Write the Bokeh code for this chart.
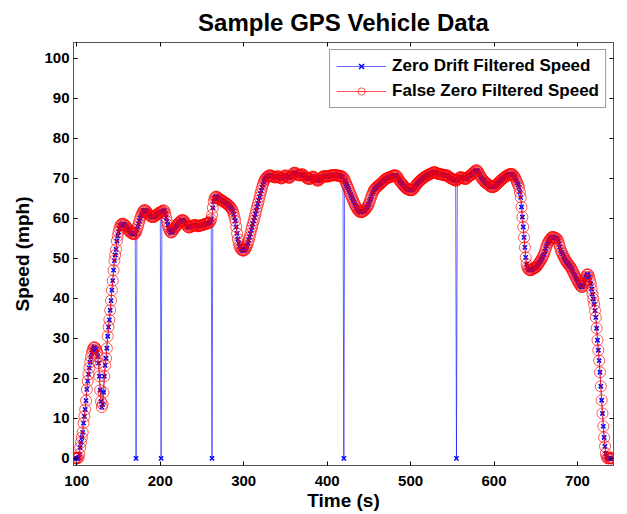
from bokeh.plotting import figure
from bokeh.models import Range1d, LinearAxis, FixedTicker, Legend, LegendItem, ColumnDataSource
from bokeh.embed import file_html
from bokeh.resources import INLINE

# ---- data (1 s samples) ----
time_s = list(range(97, 744))

false_zero_speed = [
    0, 0, 0, 0, 0, 0.2, 1.0, 2.7, 4.0, 5.2,                     # 97
    6.5, 8.8, 10.5, 12.2, 14.4, 17.2, 19.3, 21.0, 22.6, 24.0,   # 107
    25.3, 26.4, 27.1, 27.6, 27.8, 27.6, 27.2, 26.6, 25.4, 23.8, # 117
    20.5, 17.0, 14.2, 12.8, 13.5, 16.5, 20.5, 23.2, 25.0, 27.5, # 127
    30.5, 32.8, 34.6, 37.0, 39.4, 42.0, 44.4, 47.0, 49.4, 50.8, # 137
    52.2, 54.3, 55.6, 56.6, 57.4, 58.1, 58.4, 58.6, 58.6, 58.5, # 147
    58.4, 58.2, 58.0, 57.7, 57.3, 57.0, 56.7, 56.5, 56.3, 56.2, # 157
    56.1, 56.0, 56.0, 56.2, 56.6, 57.2, 57.9, 58.6, 59.3, 60.0, # 167
    60.6, 61.1, 61.6, 61.9, 62.0, 62.0, 61.8, 61.5, 61.2, 61.0, # 177
    60.8, 60.6, 60.4, 60.3, 60.3, 60.3, 60.4, 60.6, 60.8, 61.0, # 187
    61.0, 61.2, 61.4, 61.5, 61.6, 61.7, 61.8, 62.0, 61.8, 61.2, # 197
    60.2, 59.2, 58.3, 57.6, 57.0, 56.6, 56.4, 56.5, 56.8, 57.2, # 207
    57.4, 57.7, 58.0, 58.2, 58.5, 58.8, 59.0, 59.2, 59.4, 59.5, # 217
    59.5, 59.4, 59.2, 58.9, 58.5, 58.1, 57.8, 57.7, 57.7, 57.8, # 227
    57.9, 58.0, 58.1, 58.2, 58.3, 58.3, 58.2, 58.1, 58.0, 58.0, # 237
    58.1, 58.2, 58.2, 58.3, 58.3, 58.4, 58.5, 58.6, 58.6, 58.7, # 247
    58.7, 58.8, 58.9, 59.2, 59.7, 60.8, 62.6, 64.1, 65.0, 65.3, # 257
    65.4, 65.3, 65.1, 64.9, 64.8, 64.6, 64.5, 64.4, 64.3, 64.1, # 267
    64.0, 63.8, 63.7, 63.6, 63.4, 63.2, 63.0, 62.7, 62.5, 62.2, # 277
    61.7, 61.0, 60.2, 59.3, 57.8, 56.2, 54.8, 53.7, 53.0, 52.5, # 287
    52.2, 52.0, 51.9, 51.9, 52.0, 52.3, 52.7, 53.2, 53.8, 54.5, # 297
    55.3, 56.1, 57.0, 57.8, 58.6, 59.4, 60.2, 61.0, 61.9, 62.8, # 307
    63.6, 64.4, 65.3, 66.1, 66.9, 67.7, 68.4, 69.0, 69.5, 69.8, # 317
    70.1, 70.3, 70.5, 70.6, 70.7, 70.7, 70.6, 70.5, 70.4, 70.3, # 327
    70.2, 70.2, 70.3, 70.4, 70.5, 70.4, 70.2, 70.0, 69.9, 70.0, # 337
    70.2, 70.4, 70.6, 70.7, 70.6, 70.4, 70.2, 70.1, 70.1, 70.3, # 347
    70.5, 70.8, 71.1, 71.3, 71.4, 71.3, 71.1, 70.9, 70.8, 70.7, # 357
    70.7, 70.8, 70.9, 71.0, 70.9, 70.7, 70.5, 70.3, 70.1, 70.0, # 367
    69.9, 69.8, 69.8, 69.9, 70.1, 70.3, 70.4, 70.3, 70.1, 69.8, # 377
    69.6, 69.4, 69.4, 69.5, 69.7, 69.9, 70.1, 70.3, 70.4, 70.5, # 387
    70.5, 70.5, 70.4, 70.4, 70.4, 70.5, 70.6, 70.7, 70.7, 70.7, # 397
    70.7, 70.7, 70.8, 70.8, 70.7, 70.7, 70.6, 70.6, 70.6, 70.5, # 407
    70.5, 70.4, 70.2, 70.0, 69.6, 69.1, 68.6, 68.1, 67.6, 67.1, # 417
    66.5, 66.0, 65.5, 65.0, 64.5, 64.0, 63.5, 63.1, 62.7, 62.3, # 427
    62.0, 61.8, 61.6, 61.5, 61.5, 61.6, 61.7, 61.8, 62.0, 62.2, # 437
    62.5, 62.8, 63.2, 63.6, 64.2, 64.8, 65.4, 66.0, 66.5, 67.0, # 447
    67.3, 67.5, 67.7, 67.9, 68.1, 68.2, 68.4, 68.6, 68.8, 69.0, # 457
    69.2, 69.4, 69.6, 69.8, 69.9, 70.0, 70.1, 70.2, 70.2, 70.3, # 467
    70.4, 70.5, 70.6, 70.7, 70.7, 70.7, 70.6, 70.4, 70.0, 69.6, # 477
    69.3, 69.0, 68.8, 68.6, 68.3, 68.0, 67.8, 67.6, 67.4, 67.3, # 487
    67.2, 67.1, 67.0, 67.0, 67.0, 67.0, 67.2, 67.5, 67.8, 68.1, # 497
    68.4, 68.6, 68.9, 69.1, 69.3, 69.5, 69.7, 69.8, 70.0, 70.2, # 507
    70.3, 70.4, 70.6, 70.7, 70.8, 70.9, 71.0, 71.1, 71.2, 71.3, # 517
    71.4, 71.5, 71.5, 71.4, 71.3, 71.2, 71.1, 71.0, 71.0, 71.0, # 527
    70.9, 70.9, 70.8, 70.8, 70.7, 70.7, 70.7, 70.7, 70.5, 70.3, # 537
    70.1, 70.0, 69.9, 69.8, 69.7, 69.6, 69.5, 69.4, 69.4, 69.6, # 547
    69.8, 70.0, 70.2, 70.3, 70.2, 70.1, 70.0, 69.9, 69.8, 69.8, # 557
    69.9, 70.1, 70.3, 70.5, 70.6, 70.7, 70.9, 71.1, 71.3, 71.5, # 567
    71.7, 71.9, 72.0, 71.9, 71.6, 71.2, 70.8, 70.4, 70.0, 69.8, # 577
    69.5, 69.3, 69.0, 68.8, 68.7, 68.6, 68.4, 68.2, 68.0, 67.9, # 587
    67.8, 67.75, 67.8, 67.9, 68.0, 68.2, 68.4, 68.6, 68.8, 69.0, # 597
    69.2, 69.4, 69.6, 69.8, 70.0, 70.1, 70.3, 70.4, 70.6, 70.7, # 607
    70.8, 70.9, 71.0, 71.0, 71.0, 71.0, 70.8, 70.5, 70.2, 69.8, # 617
    69.3, 68.8, 68.3, 67.7, 66.5, 65.2, 62.8, 60.3, 57.8, 55.2, # 627
    52.7, 50.2, 48.5, 47.7, 47.3, 47.1, 47.0, 47.0, 47.1, 47.2, # 637
    47.4, 47.5, 47.6, 47.7, 47.9, 48.2, 48.5, 48.8, 49.1, 49.4, # 647
    49.8, 50.2, 50.6, 51.0, 51.7, 52.4, 53.0, 53.6, 54.0, 54.4, # 657
    54.7, 55.0, 55.2, 55.3, 55.3, 55.2, 55.1, 55.0, 54.9, 54.7, # 667
    54.2, 53.5, 52.8, 52.0, 51.5, 51.1, 50.6, 50.2, 49.8, 49.4, # 677
    49.1, 48.8, 48.5, 48.2, 48.0, 47.7, 47.3, 46.9, 46.5, 46.0, # 687
    45.6, 45.2, 44.8, 44.4, 44.0, 43.6, 43.3, 43.0, 42.8, 42.8, # 697
    43.2, 43.9, 44.7, 45.3, 45.8, 46.0, 45.9, 45.3, 44.5, 43.6, # 707
    42.3, 41.0, 39.8, 38.5, 36.9, 35.2, 32.5, 29.5, 27.0, 24.4, # 717
    21.5, 18.0, 14.5, 11.2, 8.0, 5.2, 3.0, 1.2, 0.4, 0,         # 727
    0, 0, 0, 0, 0, 0, 0,                                         # 737
]

# samples where the zero-drift series drops to zero
zero_drop_times = [171, 201, 262, 420, 555]

zero_drift_speed = [0 if t in zero_drop_times else v
                    for t, v in zip(time_s, false_zero_speed)]

x_ticks = [100, 200, 300, 400, 500, 600, 700]
y_ticks = [0, 10, 20, 30, 40, 50, 60, 70, 80, 90, 100]

src = ColumnDataSource(dict(t=time_s, zd=zero_drift_speed, fz=false_zero_speed))

FONT = "Liberation Sans"
FRAME = "#555555"

p = figure(width=619, height=513, output_backend="svg", toolbar_location=None,
           x_range=Range1d(96, 743.2), y_range=Range1d(-1.8, 103.9),
           min_border_left=73, min_border_right=6, min_border_top=42,
           min_border_bottom=48, title="Sample GPS Vehicle Data")

p.title.text_font = FONT
p.title.text_font_style = "bold"
p.title.text_font_size = "24px"
p.title.align = "center"
p.title.text_color = "black"
p.title.standoff = 13
p.title.text_line_height = 0.75

p.grid.visible = False
p.outline_line_color = FRAME
p.outline_line_width = 1
p.background_fill_color = "white"
p.border_fill_color = "white"

for ax in (p.xaxis[0], p.yaxis[0]):
    ax.major_tick_in = 4
    ax.major_tick_out = 0
    ax.minor_tick_line_color = None
    ax.axis_line_color = FRAME
    ax.major_tick_line_color = "black"
    ax.major_label_text_font = FONT
    ax.major_label_text_font_style = "bold"
    ax.major_label_text_font_size = "15px"
    ax.major_label_text_color = "black"
    ax.axis_label_text_font = FONT
    ax.axis_label_text_font_style = "bold"
    ax.axis_label_text_font_size = "19px"
    ax.axis_label_text_color = "black"

p.xaxis.ticker = FixedTicker(ticks=x_ticks)
p.yaxis.ticker = FixedTicker(ticks=y_ticks)
p.xaxis.axis_label = "Time (s)"
p.yaxis.axis_label = "Speed (mph)"
p.xaxis.major_label_standoff = 10
p.yaxis.major_label_standoff = 4
p.xaxis.axis_label_standoff = 1
p.yaxis.axis_label_standoff = 8

top_ax = LinearAxis(ticker=FixedTicker(ticks=x_ticks), major_tick_in=4, major_tick_out=0,
                    minor_tick_line_color=None, axis_line_color=FRAME,
                    major_label_overrides={t: "" for t in x_ticks},
                    major_label_standoff=0)
right_ax = LinearAxis(ticker=FixedTicker(ticks=y_ticks), major_tick_in=4, major_tick_out=0,
                      minor_tick_line_color=None, axis_line_color=FRAME,
                      major_label_overrides={t: "" for t in y_ticks},
                      major_label_standoff=0)
p.add_layout(top_ax, "above")
p.add_layout(right_ax, "right")

r1 = p.line("t", "zd", source=src, line_color="#0000ff", line_width=1, line_alpha=0.6)
s1 = p.scatter("t", "zd", source=src, marker="x", size=6, line_color="#0000ff", line_width=1.5)
r2 = p.line("t", "fz", source=src, line_color="#ff0000", line_width=1, line_alpha=0.7)
s2 = p.scatter("t", "fz", source=src, marker="circle", size=11, line_color="#ff0000",
               line_alpha=0.65, line_width=1, fill_color=None)

legend = Legend(items=[
    LegendItem(label="Zero Drift Filtered Speed", renderers=[r1, s1]),
    LegendItem(label="False Zero Filtered Speed", renderers=[r2, s2]),
], location="top_right")
legend.margin = 7
legend.padding = 6
legend.spacing = 5
legend.glyph_width = 50
legend.glyph_height = 18
legend.label_height = 18
legend.label_standoff = 6
legend.label_text_font = FONT
legend.label_text_font_style = "bold"
legend.label_text_font_size = "17px"
legend.label_text_color = "black"
legend.border_line_color = "#333333"
legend.border_line_width = 1
legend.background_fill_color = "white"
legend.background_fill_alpha = 1
p.add_layout(legend)

open("out.html", "w").write(file_html(p, INLINE))
